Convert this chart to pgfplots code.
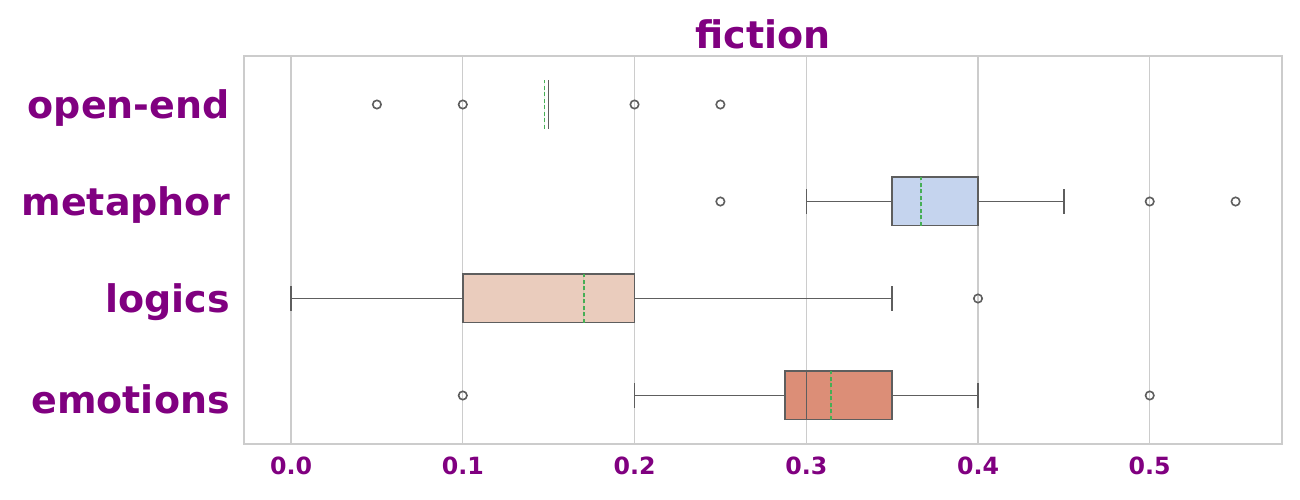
\documentclass[border=0pt]{standalone}
\usepackage{fontspec}
\setmainfont{DejaVu Sans}
\usepackage{pgfplots}
\pgfplotsset{compat=1.18}
\usepgfplotslibrary{statistics}
\definecolor{purp}{HTML}{800080}
\definecolor{gridc}{HTML}{CCCCCC}
\definecolor{linec}{HTML}{5E5E5E}
\definecolor{meanc}{HTML}{46AE55}
\definecolor{cA}{HTML}{7B9FF9}
\definecolor{cB}{HTML}{C5D4EE}
\definecolor{cC}{HTML}{EACCBD}
\definecolor{cD}{HTML}{DC8E77}
\begin{document}
\begin{tikzpicture}
\useasboundingbox (-244bp,-56bp) rectangle (1056bp,444bp);
\begin{axis}[
  at={(0,0)}, anchor=south west,
  scale only axis, width=1038bp, height=388bp,
  xmin=-0.0274, xmax=0.577, ymin=-0.5, ymax=3.5,
  xtick={0,0.1,0.2,0.3,0.4,0.5},
  ytick={0,1,2,3},
  yticklabels={emotions,logics,metaphor,open-end},
  /pgf/number format/assume math mode=true,
  xticklabel={\pgfmathprintnumber[fixed,fixed zerofill,precision=1]{\tick}},
  major tick length=0pt,
  axis line style={gridc, line width=1.3bp},
  xmajorgrids, ymajorgrids=false,
  grid style={gridc, line width=1.2bp},
  xticklabel style={font=\fontsize{23.7bp}{26bp}\selectfont\bfseries, text=purp, inner sep=0pt, anchor=north, yshift=-13bp},
  yticklabel style={font=\fontsize{38bp}{40bp}\selectfont\bfseries, text=purp, inner sep=0pt, anchor=east, xshift=-14bp, yshift=-3.5bp},
  title={fiction},
  title style={font=\fontsize{38bp}{40bp}\selectfont\bfseries, text=purp, at={(0.5,1)}, anchor=base, inner sep=0pt, yshift=1.5bp},
  boxplot/draw direction=x,
  boxplot/box extend=0.5,
  boxplot/whisker extend=0.25,
  boxplot/every whisker/.style={line width=1.5bp, draw=linec},
  boxplot/every median/.style={line width=1.5bp, draw=linec},
  boxplot/every box/.style={line width=1.5bp, draw=linec},
  boxplot/draw/average/.code={
    \draw[meanc, solid, line width=1.4bp, dash pattern=on 4bp off 2.5bp]
      (boxplot box cs:\pgfplotsboxplotvalue{average},0) --
      (boxplot box cs:\pgfplotsboxplotvalue{average},1);
  },
  bx/.style={draw=linec, line width=1.5bp, mark=o, mark size=4.2bp,
    mark options={draw=linec, fill=none, line width=1.6bp, solid}},
]
% emotions
\addplot[boxplot prepared={draw position=0, lower whisker=0.2, lower quartile=0.2875,
  median=0.3, upper quartile=0.35, upper whisker=0.4, average=0.3143},
  bx, fill=cD]
  table[row sep=\\, y index=0] {0.1\\0.5\\};
% logics
\addplot[boxplot prepared={draw position=1, lower whisker=0.0, lower quartile=0.1,
  median=0.2, upper quartile=0.2, upper whisker=0.35, average=0.1705},
  bx, fill=cC]
  table[row sep=\\, y index=0] {0.4\\};
% metaphor
\addplot[boxplot prepared={draw position=2, lower whisker=0.3, lower quartile=0.35,
  median=0.35, upper quartile=0.4, upper whisker=0.45, average=0.3667},
  bx, fill=cB]
  table[row sep=\\, y index=0] {0.25\\0.5\\0.55\\};
% open-end
\addplot[boxplot prepared={draw position=3, lower whisker=0.15, lower quartile=0.15,
  median=0.15, upper quartile=0.15, upper whisker=0.15, average=0.1477},
  bx, fill=cA]
  table[row sep=\\, y index=0] {0.05\\0.1\\0.2\\0.25\\};
\end{axis}
\end{tikzpicture}
\end{document}
